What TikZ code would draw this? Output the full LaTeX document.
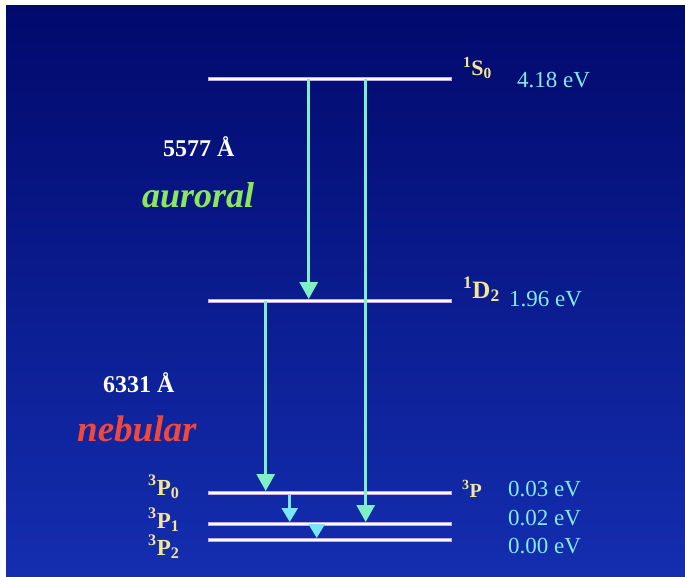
\documentclass[tikz,border=0pt]{standalone}
\usepackage{fontspec}
\setmainfont{Liberation Serif}
\usetikzlibrary{arrows.meta,calc}

\definecolor{bgtop}{RGB}{1,9,108}
\definecolor{bgbot}{RGB}{20,46,176}
\definecolor{edgelav}{RGB}{190,170,230}
\definecolor{termyellow}{RGB}{245,230,150}
\definecolor{evcyan}{RGB}{130,235,235}
\definecolor{auroralgreen}{RGB}{140,232,90}
\definecolor{nebularred}{RGB}{240,72,60}
\definecolor{arrowgreen}{RGB}{125,240,200}
\definecolor{arrowcyan}{RGB}{120,230,245}

\begin{document}
\begin{tikzpicture}[
    x=1pt, y=-1pt,
    level/.style={draw=edgelav, line width=0.6pt, fill=white, minimum width=243pt, minimum height=3.4pt, inner sep=0pt},
    term/.style={text=termyellow, font=\fontsize{23}{25}\selectfont\bfseries, inner sep=0pt, anchor=base west},
    energy/.style={text=evcyan, font=\fontsize{23}{25}\selectfont, inner sep=0pt, anchor=base west},
    wave/.style={text=white, font=\fontsize{24}{26}\selectfont\bfseries, inner sep=0pt, anchor=base west},
    kind/.style={font=\fontsize{36}{38}\selectfont\bfseries\itshape, inner sep=0pt, anchor=base west},
    tlong/.style={draw=arrowgreen, line width=3pt, -{Triangle[width=18pt,length=17pt]}},
    tshort/.style={draw=arrowcyan, line width=2.5pt, -{Triangle[width=16pt,length=14pt]}}
    ]

    % Frame and background
    \useasboundingbox (0,0) rectangle (685,576);
    \fill[white] (0,0) rectangle (685,576);
    \shade[top color=bgtop, bottom color=bgbot] (6,5) rectangle (685,576);

    % Energy levels
    \node[level] (S0) at (329.5,79) {};
    \node[level] (D2) at (329.5,301) {};
    \node[level] (P0) at (329.5,493) {};
    \node[level] (P1) at (329.5,524) {};
    \node[level] (P2) at (329.5,540) {};

    % Term symbols
    \node[term, font=\fontsize{22}{24}\selectfont\bfseries] (tS0) at (463,75) {\textsuperscript{1}S\textsubscript{0}};
    \node[term, font=\fontsize{25}{27}\selectfont\bfseries] (tD2) at (463,298) {\textsuperscript{1}D\textsubscript{2}};
    \node[term, font=\fontsize{20}{22}\selectfont\bfseries] (tP) at (462,497) {\textsuperscript{3}P};
    \node[term] (tP0) at (148,495) {\textsuperscript{3}P\textsubscript{0}};
    \node[term] (tP1) at (148,528) {\textsuperscript{3}P\textsubscript{1}};
    \node[term] (tP2) at (148,555) {\textsuperscript{3}P\textsubscript{2}};

    % Energies
    \node[energy] (eS0) at (517,87) {4.18 eV};
    \node[energy] (eD2) at (509,306.5) {1.96 eV};
    \node[energy] (eP0) at (508,496.5) {0.03 eV};
    \node[energy] (eP1) at (508,525) {0.02 eV};
    \node[energy] (eP2) at (508,553) {0.00 eV};

    % Lines and their names
    \node[wave] (w1) at (163,156) {5577 Å};
    \node[kind, text=auroralgreen] (k1) at (142,207) {auroral};
    \node[wave] (w2) at (103,392) {6331 Å};
    \node[kind, text=nebularred, font=\fontsize{37}{39}\selectfont\bfseries\itshape] (k2) at (77,441.5) {nebular};

    % Transitions
    \draw[tlong] ($(S0.west)+(101,0)$) -- ($(D2.north west)+(101,0)$);
    \draw[tlong] ($(S0.west)+(158,0)$) -- ($(P1.north west)+(158,0)$);
    \draw[tlong] ($(D2.west)+(58,0)$) -- ($(P0.north west)+(58,0)$);
    \draw[tshort] ($(P0.south west)+(82,0)$) -- ($(P1.north west)+(82,0)$);
    \draw[tshort] ($(P1.west)+(109,0)$) -- ($(P2.north west)+(109,0)$);

\end{tikzpicture}
\end{document}
